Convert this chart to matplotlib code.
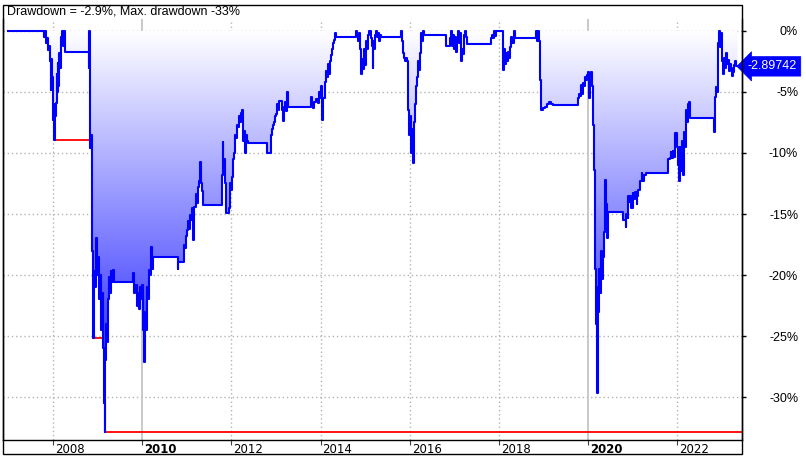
import numpy as np
import matplotlib
matplotlib.use("Agg")
import matplotlib.pyplot as plt
import matplotlib.transforms as mtransforms
from matplotlib.colors import LinearSegmentedColormap
from matplotlib.patches import PathPatch, Rectangle

# ---------------- data ----------------
dates = [
    2006.990, 2007.776, 2007.798, 2007.820, 2007.843, 2007.865, 2007.888, 2007.910, 2007.933, 2007.955,
    2007.966, 2007.978, 2007.989, 2008.000, 2008.011, 2008.022, 2008.034, 2008.045, 2008.067, 2008.079,
    2008.090, 2008.112, 2008.123, 2008.135, 2008.157, 2008.180, 2008.202, 2008.224, 2008.247, 2008.269,
    2008.785, 2008.797, 2008.808, 2008.819, 2008.830, 2008.853, 2008.875, 2008.886, 2008.898, 2008.920,
    2008.942, 2008.965, 2008.987, 2009.010, 2009.032, 2009.055, 2009.077, 2009.100, 2009.122, 2009.144,
    2009.156, 2009.167, 2009.189, 2009.212, 2009.234, 2009.257, 2009.279, 2009.302, 2009.324, 2009.346,
    2009.369, 2009.795, 2009.818, 2009.840, 2009.885, 2009.907, 2009.930, 2009.952, 2009.975, 2009.997,
    2010.020, 2010.042, 2010.064, 2010.087, 2010.109, 2010.132, 2010.154, 2010.177, 2010.199, 2010.222,
    2010.244, 2010.794, 2010.805, 2010.940, 2010.962, 2010.984, 2011.007, 2011.029, 2011.052, 2011.074,
    2011.097, 2011.119, 2011.142, 2011.164, 2011.209, 2011.231, 2011.254, 2011.276, 2011.299, 2011.321,
    2011.344, 2011.366, 2011.792, 2011.803, 2011.815, 2011.837, 2011.860, 2011.882, 2011.949, 2011.972,
    2011.994, 2012.017, 2012.039, 2012.062, 2012.084, 2012.106, 2012.129, 2012.151, 2012.174, 2012.196,
    2012.219, 2012.241, 2012.264, 2012.286, 2012.308, 2012.331, 2012.353, 2012.376, 2012.802, 2012.892,
    2012.914, 2012.937, 2012.959, 2012.982, 2013.004, 2013.027, 2013.049, 2013.071, 2013.139, 2013.161,
    2013.184, 2013.206, 2013.229, 2013.251, 2013.273, 2013.790, 2013.812, 2013.834, 2013.857, 2013.902,
    2013.947, 2013.969, 2013.991, 2014.014, 2014.036, 2014.059, 2014.104, 2014.126, 2014.148, 2014.171,
    2014.193, 2014.216, 2014.238, 2014.261, 2014.283, 2014.306, 2014.328, 2014.351, 2014.799, 2014.822,
    2014.844, 2014.867, 2014.889, 2014.912, 2014.934, 2014.956, 2014.979, 2015.001, 2015.024, 2015.046,
    2015.069, 2015.091, 2015.136, 2015.158, 2015.170, 2015.181, 2015.203, 2015.226, 2015.248, 2015.270,
    2015.293, 2015.315, 2015.338, 2015.360, 2015.809, 2015.832, 2015.854, 2015.876, 2015.899, 2015.921,
    2015.944, 2015.966, 2015.989, 2016.011, 2016.034, 2016.056, 2016.078, 2016.101, 2016.123, 2016.146,
    2016.168, 2016.191, 2016.213, 2016.236, 2016.258, 2016.281, 2016.303, 2016.325, 2016.819, 2016.909,
    2016.931, 2016.953, 2016.976, 2016.998, 2017.021, 2017.043, 2017.066, 2017.088, 2017.110, 2017.133,
    2017.155, 2017.178, 2017.200, 2017.223, 2017.245, 2017.268, 2017.290, 2017.829, 2017.851, 2017.874,
    2017.896, 2017.918, 2017.941, 2018.098, 2018.121, 2018.143, 2018.165, 2018.188, 2018.210, 2018.233,
    2018.255, 2018.278, 2018.300, 2018.345, 2018.367, 2018.839, 2018.861, 2018.883, 2018.906, 2018.928,
    2018.951, 2018.996, 2019.040, 2019.085, 2019.130, 2019.175, 2019.220, 2019.781, 2019.803, 2019.826,
    2019.848, 2019.871, 2019.893, 2019.916, 2019.938, 2019.961, 2019.983, 2020.005, 2020.028, 2020.050,
    2020.073, 2020.095, 2020.118, 2020.140, 2020.162, 2020.185, 2020.196, 2020.207, 2020.230, 2020.252,
    2020.275, 2020.297, 2020.320, 2020.342, 2020.364, 2020.387, 2020.409, 2020.432, 2020.454, 2020.791,
    2020.836, 2020.858, 2020.881, 2020.903, 2020.925, 2020.948, 2020.970, 2020.993, 2021.015, 2021.038,
    2021.060, 2021.083, 2021.105, 2021.127, 2021.150, 2021.172, 2021.195, 2021.217, 2021.240, 2021.285,
    2021.800, 2021.823, 2021.845, 2021.867, 2021.890, 2021.912, 2021.935, 2021.957, 2021.980, 2022.002,
    2022.025, 2022.047, 2022.069, 2022.092, 2022.114, 2022.137, 2022.159, 2022.182, 2022.204, 2022.227,
    2022.249, 2022.272, 2022.810, 2022.832, 2022.855, 2022.877, 2022.900, 2022.922, 2022.945, 2022.967,
    2022.989, 2023.012, 2023.034, 2023.057, 2023.079, 2023.102, 2023.124, 2023.146, 2023.169, 2023.191,
    2023.214, 2023.236, 2023.259, 2023.281, 2023.304, 2023.349,
]

drawdown = [
    0.0, 0.0, -0.5, 0.0, -1.0, -0.6, -1.6, -1.2, -2.5, -4.8,
    -2.3, -3.8, -6.5, -5.0, -7.3, -8.9, -6.0, -7.0, -5.9, -3.5,
    -5.0, -2.6, -4.5, -1.8, -3.0, -0.5, 0.0, -1.2, 0.0, -1.7,
    -1.7, -3.0, 0.0, -2.0, -9.6, -8.5, -18.0, -22.0, -25.2, -19.7,
    -21.0, -17.0, -20.0, -18.5, -22.0, -20.0, -24.5, -21.5, -26.0, -30.5,
    -32.9, -27.0, -24.0, -25.5, -22.0, -20.2, -21.5, -19.7, -20.6, -19.6,
    -20.6, -19.8, -21.5, -20.8, -22.5, -21.5, -22.8, -21.0, -22.0, -20.8,
    -24.5, -27.1, -23.0, -24.5, -21.0, -22.0, -19.6, -20.0, -17.7, -19.5,
    -18.5, -19.5, -18.9, -17.5, -17.8, -16.8, -16.3, -15.6, -16.2, -15.1,
    -15.5, -14.5, -17.1, -14.4, -13.4, -14.1, -12.8, -12.3, -10.7, -12.5,
    -13.1, -14.3, -11.8, -9.1, -11.0, -10.5, -12.5, -14.9, -14.5, -12.5,
    -13.0, -12.0, -10.5, -10.0, -8.5, -8.8, -7.7, -7.9, -7.0, -7.5,
    -6.7, -6.5, -9.0, -8.2, -10.0, -8.5, -9.0, -9.2, -10.0, -8.5,
    -8.0, -7.7, -7.5, -7.0, -6.8, -6.0, -6.5, -5.7, -6.5, -7.4,
    -6.2, -5.8, -6.6, -5.0, -6.2, -5.4, -5.9, -6.3, -5.8, -5.6,
    -5.9, -5.0, -5.5, -4.5, -7.3, -5.5, -4.2, -3.3, -3.8, -2.7,
    -3.5, -2.5, -2.0, -1.5, -1.0, -0.7, -0.2, -0.5, 0.0, -0.3,
    -0.8, -0.2, -1.5, -3.5, -2.3, -3.1, -1.5, -2.8, -0.8, -1.5,
    -0.3, 0.0, -0.6, -1.2, -3.0, -0.8, -1.5, -0.3, 0.0, -0.5,
    -0.2, -0.8, -0.3, -0.5, 0.0, -0.8, -1.8, -2.2, -2.5, -2.2,
    -2.5, -6.5, -8.5, -7.0, -10.0, -8.0, -10.8, -7.5, -6.0, -4.5,
    -3.8, -2.5, -3.2, -1.8, -0.2, -0.8, 0.0, -0.3, -1.2, -0.6,
    0.0, -1.2, -0.3, -1.5, -0.5, -1.7, -0.6, 0.0, -1.0, -0.2,
    -2.5, -1.5, -1.9, -0.3, 0.0, -0.5, -1.1, -0.6, -0.3, -0.6,
    0.0, -0.4, 0.0, -3.2, -1.5, -2.7, -1.8, -2.5, -1.7, -2.2,
    -1.3, -0.5, -1.0, 0.0, -0.6, 0.0, -0.8, 0.0, -0.8, -4.0,
    -6.5, -6.3, -6.2, -6.0, -5.8, -6.0, -6.1, -5.5, -5.2, -5.3,
    -4.4, -5.2, -4.3, -4.5, -3.8, -4.0, -3.6, -3.4, -5.5, -3.7,
    -3.4, -4.5, -7.7, -11.4, -19.5, -24.0, -21.0, -29.7, -23.0, -19.5,
    -21.5, -18.0, -20.3, -18.5, -16.5, -12.2, -14.2, -17.0, -14.8, -15.5,
    -16.1, -15.0, -15.3, -13.5, -14.0, -13.5, -14.5, -13.3, -13.8, -13.4,
    -13.2, -14.2, -13.5, -13.0, -12.6, -12.3, -11.6, -12.3, -11.8, -11.6,
    -10.5, -10.4, -9.9, -10.4, -9.8, -10.3, -8.9, -8.4, -9.5, -11.0,
    -12.3, -9.5, -11.5, -9.0, -11.8, -8.3, -9.5, -6.5, -7.5, -6.0,
    -5.8, -7.1, -8.3, -5.4, -4.6, -5.0, -1.0, 0.0, -1.3, -0.2,
    -2.5, -3.5, -2.2, -3.0, -1.8, -2.7, -2.4, -3.3, -2.7, -3.0,
    -3.7, -3.4, -2.8, -2.5, -2.9, -2.9,
]

year_ticks = [2008, 2010, 2012, 2014, 2016, 2018, 2020, 2022]
year_labels = ["2008", "2010", "2012", "2014", "2016", "2018", "2020", "2022"]
pct_ticks = [0, -5, -10, -15, -20, -25, -30]
pct_labels = ["0%", "-5%", "-10%", "-15%", "-20%", "-25%", "-30%"]
title_text = "Drawdown = -2.9%, Max. drawdown -33%"
last_value_label = "-2.89742"

assert len(dates) == len(drawdown)
x = np.array(dates)
dd = np.array(drawdown)
maxdd = np.minimum.accumulate(dd)

# ---------------- layout ----------------
W, H = 806, 459
fig = plt.figure(figsize=(W / 100, H / 100), dpi=100)
fig.patch.set_facecolor("white")

def fx(px):
    return px / W

def fy(py):
    return 1 - py / H

ax = fig.add_axes([fx(3), fy(440), fx(742) - fx(3), fy(19) - fy(440)])
XMIN, XMAX = 2006.879, 2023.448
YMIN, YMAX = -33.52, 0.98
ax.set_xlim(XMIN, XMAX)
ax.set_ylim(YMIN, YMAX)

for s in ["left", "right", "bottom"]:
    ax.spines[s].set_color("black")
    ax.spines[s].set_linewidth(1.0)
ax.spines["top"].set_visible(False)

# outer frame (title band + date strip)
fig.add_artist(Rectangle((fx(3), fy(454)), fx(742) - fx(3), fy(5) - fy(454),
                         transform=fig.transFigure, fill=False, ec="black", lw=1.0))

# grid
grid_col = "#b4b4b4"
for yt in pct_ticks:
    ax.axhline(yt, color=grid_col, lw=1.0, ls=(0, (1, 2)), zorder=0)
for yr in year_ticks:
    if yr % 10 == 0:
        ax.axvline(yr, color="#c0c0c0", lw=1.2, ls="-", zorder=0)
    else:
        ax.axvline(yr, color=grid_col, lw=1.0, ls=(0, (1, 2)), zorder=0)

# gradient fill between 0 and drawdown
cmap = LinearSegmentedColormap.from_list("wb", ["#0000ff", "#ffffff"])
poly = ax.fill_between(x, dd, 0, step="post", facecolor="none", edgecolor="none")
path = poly.get_paths()[0]
clip = PathPatch(path, transform=ax.transData, facecolor="none", edgecolor="none")
ax.add_patch(clip)
grad = np.linspace(0, 1, 256).reshape(-1, 1)
im = ax.imshow(grad, extent=[XMIN, XMAX, YMIN, 0], origin="lower", aspect="auto",
               cmap=cmap, zorder=1, interpolation="bilinear")
im.set_clip_path(clip)

# lines
ax.plot(np.append(x, XMAX), np.append(maxdd, maxdd[-1]), drawstyle="steps-post",
        color="#ff0000", lw=1.3, zorder=2)
ax.plot(np.append(x, XMAX), np.append(dd, dd[-1]), drawstyle="steps-post",
        color="#0000ff", lw=1.5, zorder=3)

# x ticks
ax.set_xticks(year_ticks)
ax.set_xticklabels(year_labels)
ax.tick_params(axis="x", direction="out", length=3.5, width=0.8, color="#404040",
               pad=-1.5, labelsize=8.5)
offset = mtransforms.ScaledTranslation(2 / 100, 0, fig.dpi_scale_trans)
for lab in ax.get_xticklabels():
    lab.set_horizontalalignment("left")
    lab.set_transform(lab.get_transform() + offset)
    lab.set_fontfamily("DejaVu Sans")
    if int(lab.get_text()) % 10 == 0:
        lab.set_fontweight("bold")

# right y axis
ax.yaxis.tick_right()
ax.set_yticks(pct_ticks)
ax.set_yticklabels(pct_labels)
ax.tick_params(axis="y", direction="out", length=3, width=1, color="black",
               pad=(798 - 742 - 4) * 0.72, labelsize=9)
for lab in ax.get_yticklabels():
    lab.set_horizontalalignment("right")
    lab.set_fontfamily("Liberation Sans")

# title
fig.text(fx(7), fy(11.5), title_text, ha="left", va="center", fontsize=9,
         family="Liberation Sans", color="black")

# last value marker
trans = mtransforms.blended_transform_factory(ax.transAxes, ax.transData)
ax.text(1 + (797 - 742) / (742 - 3), dd[-1], last_value_label, transform=trans,
        ha="right", va="center", fontsize=9, family="Liberation Sans", color="white",
        clip_on=False, zorder=10,
        bbox=dict(boxstyle="larrow,pad=0.3", fc="#0000ff", ec="#0000ff", lw=0.5))

fig.savefig("out.png", dpi=100, facecolor="white")
